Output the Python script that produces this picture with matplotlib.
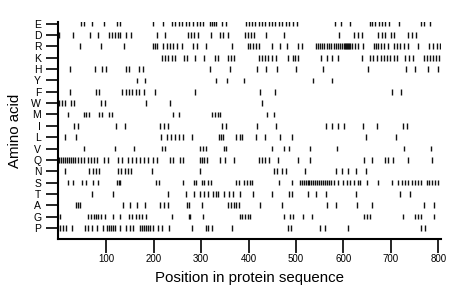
import matplotlib
matplotlib.use("Agg")
from matplotlib import pyplot as plt

# amino acid rows, listed top to bottom
amino_acids = ["E", "D", "R", "K", "H", "Y", "F", "W", "M", "I",
               "L", "V", "Q", "N", "S", "T", "A", "G", "P"]

pos_E = [47, 53, 70, 95, 123, 129, 199, 220, 239, 245, 253, 259, 268, 274, 283, 291,
         297, 304, 319, 323, 327, 331, 344, 352, 395, 401, 407, 414, 422, 429, 435,
         443, 450, 456, 464, 471, 479, 485, 494, 502, 583, 595, 614, 656, 660, 667,
         675, 682, 688, 695, 718, 764, 770, 783]
pos_D = [1, 30, 65, 82, 106, 112, 118, 125, 129, 141, 152, 207, 224, 272, 279, 285,
         293, 321, 340, 346, 357, 392, 399, 405, 411, 437, 475, 591, 622, 631, 639,
         673, 682, 688, 700, 707, 736, 745, 753]
pos_R = [45, 89, 137, 198, 203, 207, 219, 228, 234, 241, 249, 260, 283, 291, 310, 365,
         399, 403, 409, 416, 422, 449, 466, 481, 504, 513, 542, 546, 551, 555, 559,
         565, 570, 574, 580, 584, 589, 593, 597, 601, 603, 606, 608, 610, 612, 614,
         618, 625, 631, 641, 665, 669, 673, 679, 686, 694, 707, 713, 720, 728, 736,
         758, 781, 789, 798, 804]
pos_K = [218, 224, 230, 239, 245, 264, 270, 287, 306, 329, 336, 357, 363, 369, 422,
         428, 435, 441, 449, 458, 483, 494, 498, 504, 553, 565, 576, 589, 639, 656,
         663, 671, 679, 686, 692, 698, 707, 713, 730, 738, 747, 770, 776, 783, 789,
         795, 802]
pos_H = [23, 76, 91, 99, 141, 148, 169, 177, 319, 361, 418, 437, 460, 500, 557, 652,
         732, 751, 779, 800]
pos_Y = [165, 182, 331, 354, 390, 536, 576]
pos_F = [23, 78, 84, 133, 141, 148, 154, 162, 169, 179, 203, 287, 424, 456, 703, 722]
pos_W = [1, 7, 13, 25, 32, 89, 97, 184, 234, 428]
pos_M = [19, 53, 57, 63, 85, 91, 106, 112, 241, 253, 323, 329, 336, 340, 439, 454]
pos_I = [32, 40, 120, 139, 213, 222, 230, 344, 352, 418, 458, 563, 576, 589, 601, 641,
         671, 726, 733]
pos_L = [13, 36, 216, 228, 236, 245, 253, 262, 281, 338, 342, 346, 374, 382, 386, 416,
         435, 466, 492, 648, 711]
pos_V = [53, 118, 158, 217, 224, 298, 304, 310, 348, 352, 449, 475, 485, 530, 587, 728,
         785]
pos_Q = [0, 4, 9, 13, 17, 21, 26, 30, 34, 40, 47, 53, 61, 68, 74, 80, 95, 104, 125,
         133, 146, 154, 162, 171, 179, 188, 199, 207, 234, 241, 255, 262, 298, 302,
         306, 312, 340, 350, 369, 422, 428, 435, 443, 462, 504, 530, 644, 660, 688,
         694, 705, 736, 787]
pos_N = [13, 63, 72, 78, 84, 125, 131, 139, 146, 152, 196, 298, 454, 460, 471, 479,
         519, 585, 597, 610, 627, 648]
pos_S = [19, 30, 49, 57, 72, 82, 123, 126, 129, 205, 211, 262, 285, 289, 302, 306, 315,
         321, 374, 380, 390, 397, 403, 407, 464, 492, 508, 513, 517, 521, 525, 527,
         532, 536, 540, 544, 549, 553, 557, 561, 565, 570, 574, 580, 589, 599, 608,
         614, 622, 631, 635, 650, 673, 703, 715, 724, 730, 736, 745, 751, 758, 764,
         777, 781, 787, 794, 800]
pos_T = [70, 114, 230, 268, 285, 298, 306, 315, 325, 331, 336, 348, 359, 367, 382, 409,
         449, 485, 492, 525, 542, 563, 627, 720, 741]
pos_A = [36, 40, 45, 135, 150, 165, 181, 213, 222, 230, 270, 274, 302, 357, 363, 369,
         374, 380, 424, 471, 566, 585, 629, 660, 770, 791]
pos_G = [2, 61, 68, 74, 78, 82, 89, 97, 114, 129, 148, 154, 162, 169, 175, 184, 239,
         274, 277, 304, 382, 386, 392, 399, 403, 475, 487, 494, 515, 534, 644, 650,
         656, 726, 751, 758, 764, 791]
pos_P = [2, 9, 15, 28, 55, 61, 70, 80, 93, 101, 106, 110, 114, 118, 129, 141, 150, 156,
         171, 175, 179, 184, 188, 192, 199, 209, 218, 232, 281, 310, 315, 323, 365,
         483, 490, 551, 561, 610, 764, 772]

positions = [pos_E, pos_D, pos_R, pos_K, pos_H, pos_Y, pos_F, pos_W, pos_M, pos_I,
             pos_L, pos_V, pos_Q, pos_N, pos_S, pos_T, pos_A, pos_G, pos_P]
x_ticks = [100, 200, 300, 400, 500, 600, 700, 800]

plt.rcParams["font.family"] = ["Liberation Sans", "DejaVu Sans"]

fig = plt.figure(figsize=(4.6, 2.99), dpi=100)
ax = fig.add_axes([0.126, 0.2007, 0.833, 0.726])

n = len(amino_acids)
offsets = [n - 1 - i for i in range(n)]
ax.eventplot(positions, lineoffsets=offsets, linelengths=0.5,
             linewidths=1.0, colors="#111111")

ax.set_xlim(-2, 806)
ax.set_ylim(-0.97, 18.15)

ax.set_yticks(offsets)
ax.set_yticklabels(amino_acids)
ax.set_xticks(x_ticks)
ax.set_xticklabels([str(t) for t in x_ticks])

ax.spines["top"].set_visible(False)
ax.spines["right"].set_visible(False)
ax.spines["left"].set_linewidth(1.5)
ax.spines["bottom"].set_linewidth(1.5)

ax.tick_params(axis="y", length=8.6, width=1.2, pad=3.5, labelsize=7.5)
ax.tick_params(axis="x", length=10, width=1.2, pad=1, labelsize=7)

ax.set_xlabel("Position in protein sequence", fontsize=10.8, labelpad=5)
ax.set_ylabel("Amino acid", fontsize=10.8, labelpad=7)

fig.savefig("out.png", dpi=100)
